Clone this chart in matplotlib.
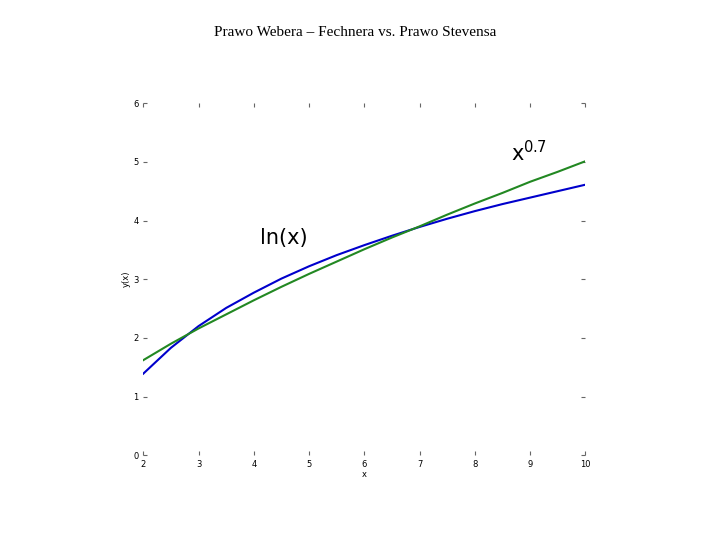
import matplotlib.pyplot as plt

x = [2, 2.5, 3, 3.5, 4, 4.5, 5, 5.5, 6, 6.5, 7, 7.5, 8, 8.5, 9, 9.5, 10]
y_ln = [1.39, 1.83, 2.20, 2.51, 2.77, 3.01, 3.22, 3.41, 3.58, 3.74, 3.89, 4.03, 4.16, 4.28, 4.39, 4.50, 4.61]
y_pow = [1.62, 1.90, 2.16, 2.40, 2.64, 2.87, 3.09, 3.30, 3.51, 3.71, 3.90, 4.10, 4.29, 4.47, 4.66, 4.83, 5.01]

fig = plt.figure(figsize=(7.2, 5.4), dpi=100)
fig.text(0.493, 0.94, 'Prawo Webera – Fechnera vs. Prawo Stevensa',
         ha='center', va='center', family='Liberation Serif', fontsize=11)

ax = fig.add_axes([0.199, 0.157, 0.614, 0.652])
ax.plot(x, y_ln, color='#0000cc', lw=1.5)
ax.plot(x, y_pow, color='#228822', lw=1.5)
ax.set_xlim(2, 10)
ax.set_ylim(0, 6)
for s in ax.spines.values():
    s.set_visible(False)
ax.tick_params(labelsize=6, length=3, direction='in', top=True, right=True, color='#666666')
ax.set_xlabel('x', fontsize=6, labelpad=1)
ax.set_ylabel('y(x)', fontsize=6, labelpad=2)
ax.text(4.12, 3.7, 'ln(x)', fontsize=15, va='center')
ax.text(8.65, 5.15, r'x$^{0.7}$', fontsize=15, va='center')

fig.savefig('out.png')
